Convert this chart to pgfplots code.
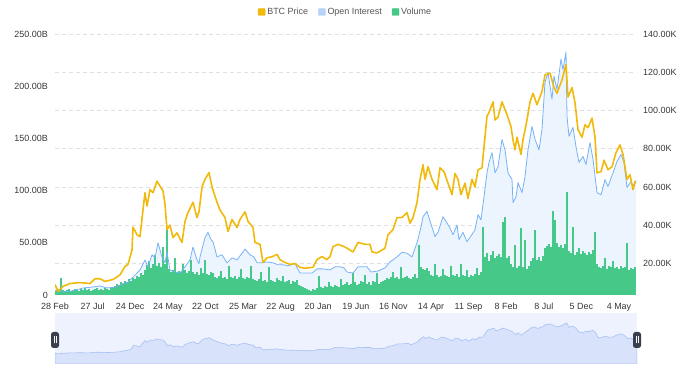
\documentclass[border=0pt]{standalone}
\usepackage{pgfplots}
\pgfplotsset{compat=1.18}
\usepackage{pgfplotstable}
\usepackage{fontspec}
\setmainfont{Liberation Sans}
\definecolor{btc}{RGB}{240,185,11}
\definecolor{oiline}{RGB}{118,178,246}
\definecolor{oifill}{RGB}{236,244,254}
\definecolor{oileg}{RGB}{184,210,250}
\definecolor{vol}{RGB}{70,200,136}
\definecolor{gridc}{RGB}{224,224,224}
\definecolor{lbl}{RGB}{55,55,55}
\definecolor{legtext}{RGB}{85,85,85}
\definecolor{sldbg}{RGB}{238,242,254}
\definecolor{sldfill}{RGB}{216,226,250}
\definecolor{sldline}{RGB}{168,192,245}
\definecolor{handle}{RGB}{58,63,78}

\pgfplotstableread{
x y
0 9.0
3 5.4
8 8.0
15 9.5
25 10.0
35 9.5
40 12.0
45 12.0
50 10.6
58 11.6
65 14.0
70 18.4
73 19.5
77 27
78 39
82 35
85 34
88 48
90 57
92 50
95 58.6
98 57
102 63
106 59.6
108 58
110 51
112 37.7
115 40
118 33.5
122 36
127 31
130 42
133 46.6
138 52
142 44
144 47
147 60
150 64
154 67.5
157 60
162 52
165 48
170 44
173 36.7
177 43
182 38.8
185 43
190 47
193 42
198 38.8
200 31
205 30
208 20.5
212 23
217 23.5
222 24.7
225 22
230 20.5
235 19.5
240 20
245 18
250 17.5
258 18
262 22
267 23.6
272 22
275 23.6
278 28.8
283 30
288 29
292 28
298 26
303 31
310 30
315 30
317 26
322 25.5
327 27
330 28
333 35
338 37.7
342 44
347 44
352 46.6
355 41
358 44
362 51.8
365 63.8
368 71.6
370 64
373 70.6
377 64
382 58.6
385 70
389 68
393 62
397 56
400 67
403 64
406 56
410 62
413 54
417 64
420 60
423 69
427 70
429 81
432 97
434 99
438 104.5
440 95
443 96.5
447 104.5
452 97.8
456 91.5
458 84.7
460 79.5
462 86
466 77
468 84.7
472 95
475 104.5
478 109
482 103
487 110
490 118.6
495 119.6
499 112
502 109
507 116
511 124
513 107
517 112
520 104
523 90
527 86
530 92.5
533 91
537 96
540 86
542 67.4
546 68
549 74
553 69
557 70.6
561 78
565 82
568 77
572 64
575 66.4
578 58.6
580 62.7
581 62
}\pricetable

\pgfplotstableread{
x y
0 4.8
8 3
18 4
28 6.7
38 7.7
45 8.7
52 6.7
62 7.7
67 10.6
72 11.5
75 14.4
80 19
85 24
90 33.6
93 27
97 38.5
100 35.6
103 50
107 36.5
110 30.8
112 41
115 24
120 22
125 21
130 27
135 33.6
138 46
142 33.6
144 30
145 36.5
150 55
153 60
156 53
158 51
162 36.5
167 38.5
172 30.8
177 35.6
182 33.6
187 40
190 44
195 38.5
199 36.5
202 30.8
207 30.8
212 31.7
218 30.8
223 29
228 29
233 28
240 30
245 21
252 21
257 21
262 25
268 25
275 24
280 27
285 27
289 26
292 22
298 21
303 27
312 27
316 22
323 23
330 26
335 31.7
342 36.5
347 41
352 40
357 36.5
362 50
366 65
368 75
372 80
377 65
380 56
383 60
388 75
392 69
395 64
398 57.7
402 67
404 53
408 60
412 51
417 58
420 62.5
423 77
426 72
429 94
432 117
434 127
437 136.5
440 117
443 123
447 149
450 139
453 117
457 110.6
458 88.5
461 94
463 107.7
467 98
470 113.5
473 139
477 161.5
480 149
484 139
487 158.6
490 204
493 213
497 187.5
499 209.6
502 197
506 226
508 216
511 232.7
512 171
514 152
518 160.6
521 142
524 127
528 132.7
531 125
535 146
538 130
542 98
546 96
550 110.6
553 104
558 117
562 128
566 134.6
569 127
572 103
576 108.6
578 104
581 110
}\oitable

% daily volume samples, one every 2 px (offsets 0,2,...,580)
\pgfplotstableread[row sep=\\]{
v\\
4\\5\\6\\16\\5\\4\\5\\6\\4\\5\\6\\5\\4\\6\\5\\7\\5\\6\\4\\5\\6\\7\\5\\6\\5\\7\\6\\5\\7\\8\\
9\\11\\10\\12\\11\\13\\12\\15\\13\\16\\15\\18\\17\\21\\19\\
24\\29\\33\\26\\30\\38\\28\\31\\27\\46\\30\\
62\\
25\\22\\24\\35\\21\\23\\22\\30\\24\\21\\23\\34\\22\\
20\\22\\19\\26\\21\\34\\20\\19\\22\\21\\
17\\16\\18\\23\\16\\17\\15\\28\\17\\16\\18\\15\\17\\25\\16\\15\\17\\16\\28\\15\\
14\\13\\15\\22\\13\\14\\12\\27\\14\\13\\12\\16\\14\\13\\18\\12\\13\\14\\11\\13\\12\\14\\10\\
9\\8\\7\\6\\5\\4\\6\\5\\7\\18\\8\\7\\9\\8\\12\\9\\8\\10\\9\\8\\15\\10\\
11\\12\\10\\11\\21\\12\\10\\11\\13\\12\\19\\11\\12\\10\\13\\12\\21\\11\\12\\13\\14\\
16\\15\\17\\22\\16\\17\\15\\27\\16\\17\\18\\16\\15\\17\\20\\16\\48\\
27\\25\\24\\26\\23\\
19\\18\\30\\19\\17\\18\\25\\19\\18\\17\\28\\19\\18\\20\\17\\30\\19\\18\\24\\17\\19\\18\\20\\26\\19\\22\\
65\\
36\\40\\33\\38\\42\\35\\37\\39\\36\\
70\\75\\35\\37\\
30\\27\\48\\26\\28\\64\\27\\53\\25\\28\\
33\\35\\62\\34\\36\\33\\37\\
45\\47\\49\\46\\80\\72\\50\\46\\48\\45\\49\\
99\\
42\\40\\65\\38\\41\\45\\39\\42\\40\\38\\41\\39\\43\\60\\
30\\27\\26\\28\\35\\25\\28\\27\\33\\26\\27\\25\\28\\26\\27\\50\\24\\26\\25\\27\\
}\voltable

\pgfplotsset{
  base/.style={
    scale only axis, width=581bp, height=261bp,
    at={(55bp,96bp)}, anchor=south west,
    xmin=0, xmax=581,
    axis line style={draw=none}, major tick length=0pt,
    tick label style={font=\fontsize{9}{10}\selectfont, text=lbl},
  }
}

\begin{document}
\begin{tikzpicture}
\useasboundingbox (0,0) rectangle (691bp,391bp);

% grid + right labels
\begin{axis}[base,
  ymin=3.5, ymax=140,
  axis y line*=right, axis x line*=bottom,
  xtick=\empty,
  ytick={20,40,60,80,100,120,140},
  yticklabels={20.00K,40.00K,60.00K,80.00K,100.00K,120.00K,140.00K},
  yticklabel style={anchor=west, inner sep=0pt, xshift=7bp},
  ymajorgrids, grid style={gridc, dash pattern=on 4bp off 3bp, line width=0.6bp},
]
\end{axis}

% left axis: open interest and volume
\begin{axis}[base,
  ymin=0, ymax=250,
  axis y line*=left, axis x line*=bottom,
  ytick={0,50,100,150,200,250},
  yticklabels={0,50.00B,100.00B,150.00B,200.00B,250.00B},
  yticklabel style={anchor=east, inner sep=0pt, xshift=-7bp},
  xtick={0,37.6,75.2,112.8,150.4,188,225.6,263.2,300.8,338.4,376,413.6,451.2,488.8,526.4,564},
  xticklabels={28 Feb,27 Jul,24 Dec,24 May,22 Oct,25 Mar,22 Aug,20 Jan,19 Jun,16 Nov,14 Apr,11 Sep,8 Feb,8 Jul,5 Dec,4 May},
  xticklabel style={anchor=north, inner sep=0pt, yshift=-8bp},
]
\addplot[draw=none, fill=oifill] table[x=x,y=y]{\oitable} \closedcycle;
\addplot[ycomb, vol, line width=2.1bp, mark=none] table[x expr=\coordindex*2, y=v]{\voltable};
\addplot[oiline, line width=0.8bp, line join=round] table[x=x,y=y]{\oitable};
\end{axis}

% right axis: price
\begin{axis}[base,
  ymin=3.5, ymax=140, hide axis,
  legend columns=3,
  legend image code/.code={\fill[#1, rounded corners=0.8bp] (0bp,-3.5bp) rectangle (7bp,3.5bp);},
  legend style={draw=none, fill=none, at={(0.5,1)}, anchor=center, yshift=22bp,
    font=\fontsize{9}{10}\selectfont, text=legtext,
    /tikz/every even column/.append style={column sep=8bp}},
]
\addplot[btc, line width=1.6bp, line join=round, forget plot] table[x=x,y=y]{\pricetable};
\addlegendimage{btc}
\addlegendentry{BTC Price}
\addlegendimage{oileg}
\addlegendentry{Open Interest}
\addlegendimage{vol}
\addlegendentry{Volume}
\end{axis}

% slider
\begin{axis}[scale only axis, width=582bp, height=51bp,
  at={(55bp,27bp)}, anchor=south west,
  xmin=0, xmax=581, ymin=0, ymax=195, hide axis,
  axis background/.style={fill=sldbg},
]
\addplot[sldline, fill=sldfill, line width=0.6bp] table[x=x, y expr=\thisrow{y}+33]{\pricetable} \closedcycle;
\end{axis}

\foreach \hx in {55,637}{
  \fill[handle, rounded corners=2.5bp] (\hx bp-4bp,43bp) rectangle (\hx bp+4bp,59bp);
  \draw[white, line width=0.6bp] (\hx bp-1.1bp,47.5bp) -- (\hx bp-1.1bp,54.5bp);
  \draw[white, line width=0.6bp] (\hx bp+1.1bp,47.5bp) -- (\hx bp+1.1bp,54.5bp);
}
\end{tikzpicture}
\end{document}
